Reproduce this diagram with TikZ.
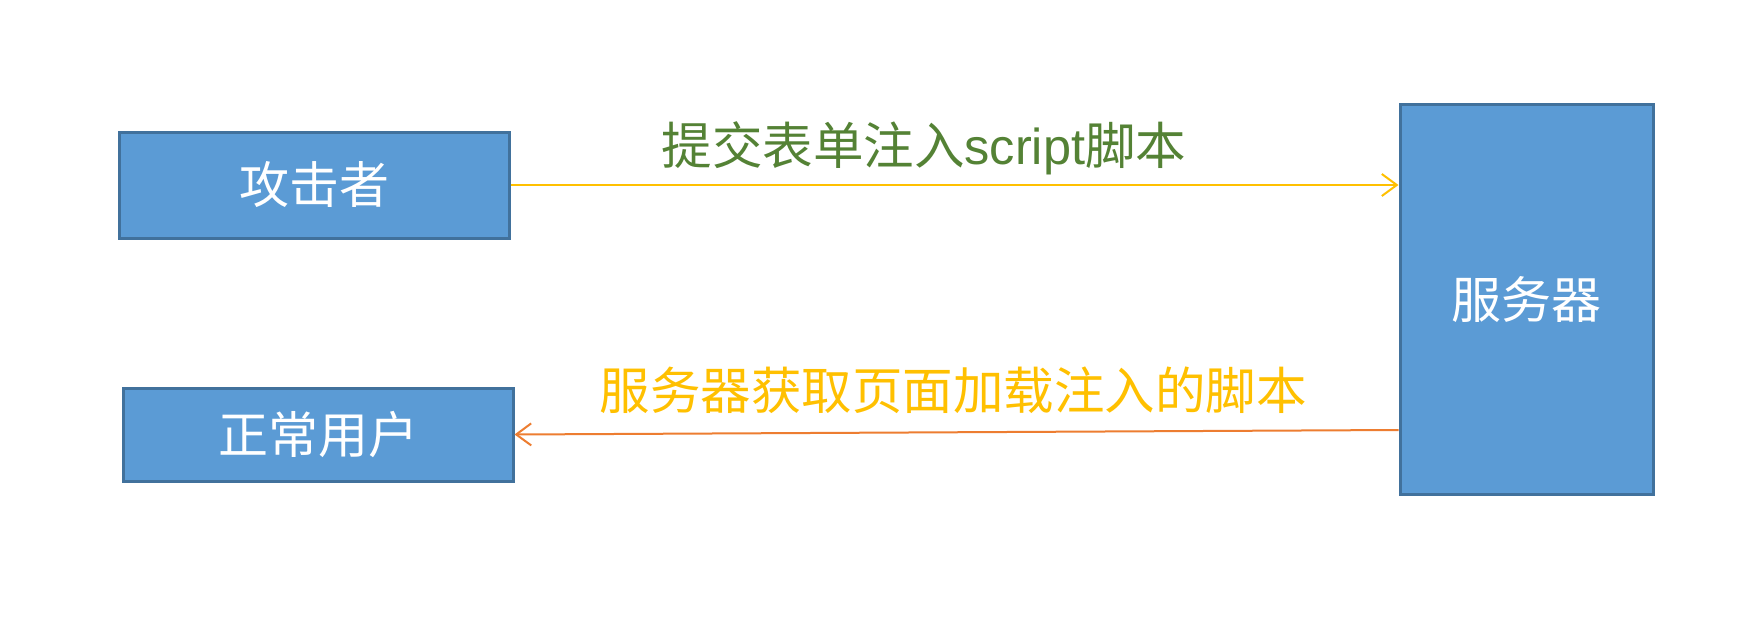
\documentclass[tikz,border=0pt]{standalone}
\usepackage{fontspec}
\newfontfamily\cjk{Noto Sans CJK SC}
\newfontfamily\lat{Liberation Sans}
\usetikzlibrary{arrows.meta}
\definecolor{boxfill}{HTML}{5B9BD5}
\definecolor{boxline}{HTML}{41719C}
\definecolor{arrowyellow}{HTML}{FFC000}
\definecolor{arroworange}{HTML}{ED7D31}
\definecolor{labelgreen}{HTML}{548235}
\definecolor{labelgold}{HTML}{FFC000}
\tikzset{
  actor/.style={draw=boxline, fill=boxfill, line width=3pt, rectangle, inner sep=0pt,
    text=white, font=\cjk\fontsize{50}{60}\selectfont},
  msg/.style={line width=2pt, -{Straight Barb[length=15pt,width=22pt,line width=2pt]}},
  msglabel/.style={inner sep=0pt, font=\cjk\fontsize{50.5}{60}\selectfont}
}
\begin{document}
\begin{tikzpicture}[x=1pt,y=-1pt]
\useasboundingbox[fill=white] (0,0) rectangle (1762,632);
\node[actor, minimum width=390pt, minimum height=106pt] (attacker) at (314,185) {攻击者};
\node[actor, minimum width=390pt, minimum height=93pt] (user) at (318,434.5) {正常用户};
\node[actor, minimum width=253pt, minimum height=390pt] (server) at (1526.5,299) {服务器};
\coordinate (srvout) at (server.west |- 0,430);
\draw[msg, arrowyellow] (attacker.east) -- (attacker.east -| server.west);
\draw[msg, arroworange] (srvout) -- (user.east);
\node[msglabel, text=labelgreen] (lab1) at (924,148) {提交表单注入{\lat script}脚本};
\node[msglabel, text=labelgold] (lab2) at (953,390) {服务器获取页面加载注入的脚本};
\end{tikzpicture}
\end{document}
